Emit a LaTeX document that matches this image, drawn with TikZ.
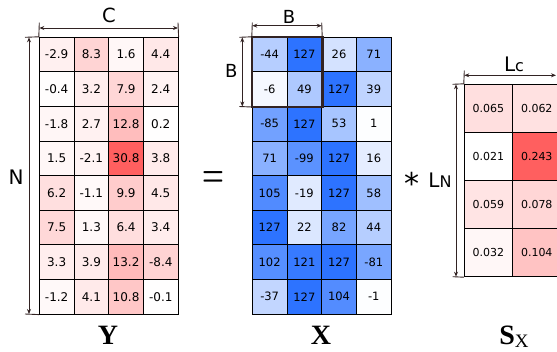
\documentclass[tikz,border=0pt]{standalone}
\usepackage{fontspec}
\setsansfont{DejaVu Sans}
\newfontfamily\serifb{Liberation Serif}
\usetikzlibrary{arrows.meta}
\definecolor{ybase}{RGB}{255,95,95}
\definecolor{xbase}{RGB}{45,115,255}
\definecolor{dimc}{RGB}{50,35,35}
\begin{document}
\begin{tikzpicture}[x=1pt,y=-1pt,
  cellbase/.style={draw=black, line width=1pt, inner sep=0pt, anchor=center},
  ycell/.style={cellbase, minimum width=34.7pt, minimum height=34.6pt, font=\sffamily\fontsize{12}{12}\selectfont},
  xcell/.style={cellbase, minimum width=34.7pt, minimum height=34.6pt, font=\sffamily\fontsize{11.5}{11.5}\selectfont},
  scell/.style={cellbase, minimum width=48.3pt, minimum height=48.1pt, font=\sffamily\fontsize{11}{11}\selectfont},
  dimarrow/.style={draw=dimc, line width=0.9pt, {Stealth[length=5pt,width=4pt]}-{Stealth[length=5pt,width=4pt]}},
  tickline/.style={draw=dimc, line width=0.9pt},
  dimlabel/.style={inner sep=0pt, font=\sffamily\fontsize{19.5}{19.5}\selectfont},
  mlabel/.style={inner sep=0pt, anchor=base, font=\serifb\bfseries\fontsize{28}{28}\selectfont}]
\useasboundingbox (0,0) rectangle (557,351);
\clip (0,0) rectangle (557,351);
% Y matrix
\foreach \row [count=\r] in {{-2.9,8.3,1.6,4.4},{-0.4,3.2,7.9,2.4},{-1.8,2.7,12.8,0.2},{1.5,-2.1,30.8,3.8},{6.2,-1.1,9.9,4.5},{7.5,1.3,6.4,3.4},{3.3,3.9,13.2,-8.4},{-1.2,4.1,10.8,-0.1}}{
  \foreach \v [count=\c] in \row {
    \pgfmathsetmacro\p{min(100,abs(\v)/30.8*100)}
    \node[ycell, fill=ybase!\p!white] (y-\r-\c) at ({39.3+(\c-0.5)*34.7},{37.3+(\r-0.5)*34.6}) {\v};
  }
}
% X matrix
\foreach \row [count=\r] in {{-44,127,26,71},{-6,49,127,39},{-85,127,53,1},{71,-99,127,16},{105,-19,127,58},{127,22,82,44},{102,121,127,-81},{-37,127,104,-1}}{
  \foreach \v [count=\c] in \row {
    \pgfmathsetmacro\p{min(100,abs(\v)/127*100)}
    \node[xcell, fill=xbase!\p!white] (x-\r-\c) at ({252.3+(\c-0.5)*34.7},{37.3+(\r-0.5)*34.6}) {\v};
  }
}
\draw[draw=dimc, line width=2.6pt] (x-1-1.north west) rectangle (x-2-2.south east);
% S matrix
\foreach \row [count=\r] in {{0.065,0.062},{0.021,0.243},{0.059,0.078},{0.032,0.104}}{
  \foreach \v [count=\c] in \row {
    \pgfmathsetmacro\p{max(0,min(100,(\v-0.021)/0.222*100))}
    \node[scell, fill=ybase!\p!white] (s-\r-\c) at ({464.3+(\c-0.5)*48.3},{84.3+(\r-0.5)*48.1}) {\v};
  }
}
% dimension coordinates
\coordinate (cA) at (39.3,28);   \coordinate (cB) at (178,28);
\coordinate (cA1) at (39.3,22.7); \coordinate (cB1) at (178,22.7);
\coordinate (nA) at (29,37.3);   \coordinate (nB) at (29,314);
\coordinate (nA1) at (25,37.3);  \coordinate (nB1) at (25,314);
\coordinate (btA) at (252.3,25.7); \coordinate (btB) at (321.7,25.7);
\coordinate (btA1) at (252.3,22.7); \coordinate (btB1) at (321.7,22.7);
\coordinate (blA) at (242.3,37.3); \coordinate (blB) at (242.3,106.5);
\coordinate (blA1) at (239.3,37.3); \coordinate (blB1) at (239.3,106.5);
\coordinate (lcA) at (464.3,75.3); \coordinate (lcB) at (556,75.3);
\coordinate (lcA1) at (464.3,70.7);
\coordinate (lnA) at (456,84.3); \coordinate (lnB) at (456,276.7);
\coordinate (lnA1) at (452.7,84.3); \coordinate (lnB1) at (452.7,276.7);
% ticks
\draw[tickline] (cA1) -- (y-1-1.north west);
\draw[tickline] (cB1) -- (y-1-4.north east);
\draw[tickline] (nA1) -- (y-1-1.north west);
\draw[tickline] (nB1) -- (y-8-1.south west);
\draw[tickline] (btA1) -- (x-1-1.north west);
\draw[tickline] (btB1) -- (x-1-2.north east);
\draw[tickline] (blA1) -- (x-1-1.north west);
\draw[tickline] (blB1) -- (x-2-1.south west);
\draw[tickline] (lcA1) -- (s-1-1.north west);
\draw[tickline] (lnA1) -- (s-1-1.north west);
\draw[tickline] (lnB1) -- (s-4-1.south west);
% arrows
\draw[dimarrow] (cA) -- (cB);
\draw[dimarrow] (nA) -- (nB);
\draw[dimarrow] (btA) -- (btB);
\draw[dimarrow] (blA) -- (blB);
\draw[dimarrow] (lcA) -- (lcB);
\draw[dimarrow] (lnA) -- (lnB);
% labels
\node[dimlabel] (lC) at (109,15.5) {C};
\node[dimlabel, font=\sffamily\fontsize{18}{18}\selectfont] (lBt) at (289,16.7) {B};
\node[dimlabel, font=\sffamily\fontsize{18}{18}\selectfont] (lBl) at (231.3,71) {B};
\node[dimlabel, font=\sffamily\fontsize{20}{20}\selectfont] (lN) at (16,177.5) {N};
\node[inner sep=0pt, font=\rmfamily\bfseries\fontsize{25}{25}\selectfont, yscale=1.55] (eq) at (213.3,178.7) {=};
\node[inner sep=0pt, anchor=base, font=\sffamily\fontsize{30}{30}\selectfont] (star) at (412,194) {*};
\node[inner sep=0pt, anchor=base east] (lLN) at (451.7,187) {\sffamily\fontsize{20}{20}\selectfont L\fontsize{16}{16}\selectfont N};
\node[inner sep=0pt, anchor=base] (lLc) at (514,71) {\sffamily\fontsize{20}{20}\selectfont L\fontsize{16}{16}\selectfont c};
\node[mlabel] (lY) at (108,344.5) {Y};
\node[mlabel] (lX) at (321,344.5) {X};
\node[mlabel] (lS) at (514,344.5) {S\raisebox{-2.5pt}{\mdseries\fontsize{19}{19}\selectfont X}};
\end{tikzpicture}
\end{document}
